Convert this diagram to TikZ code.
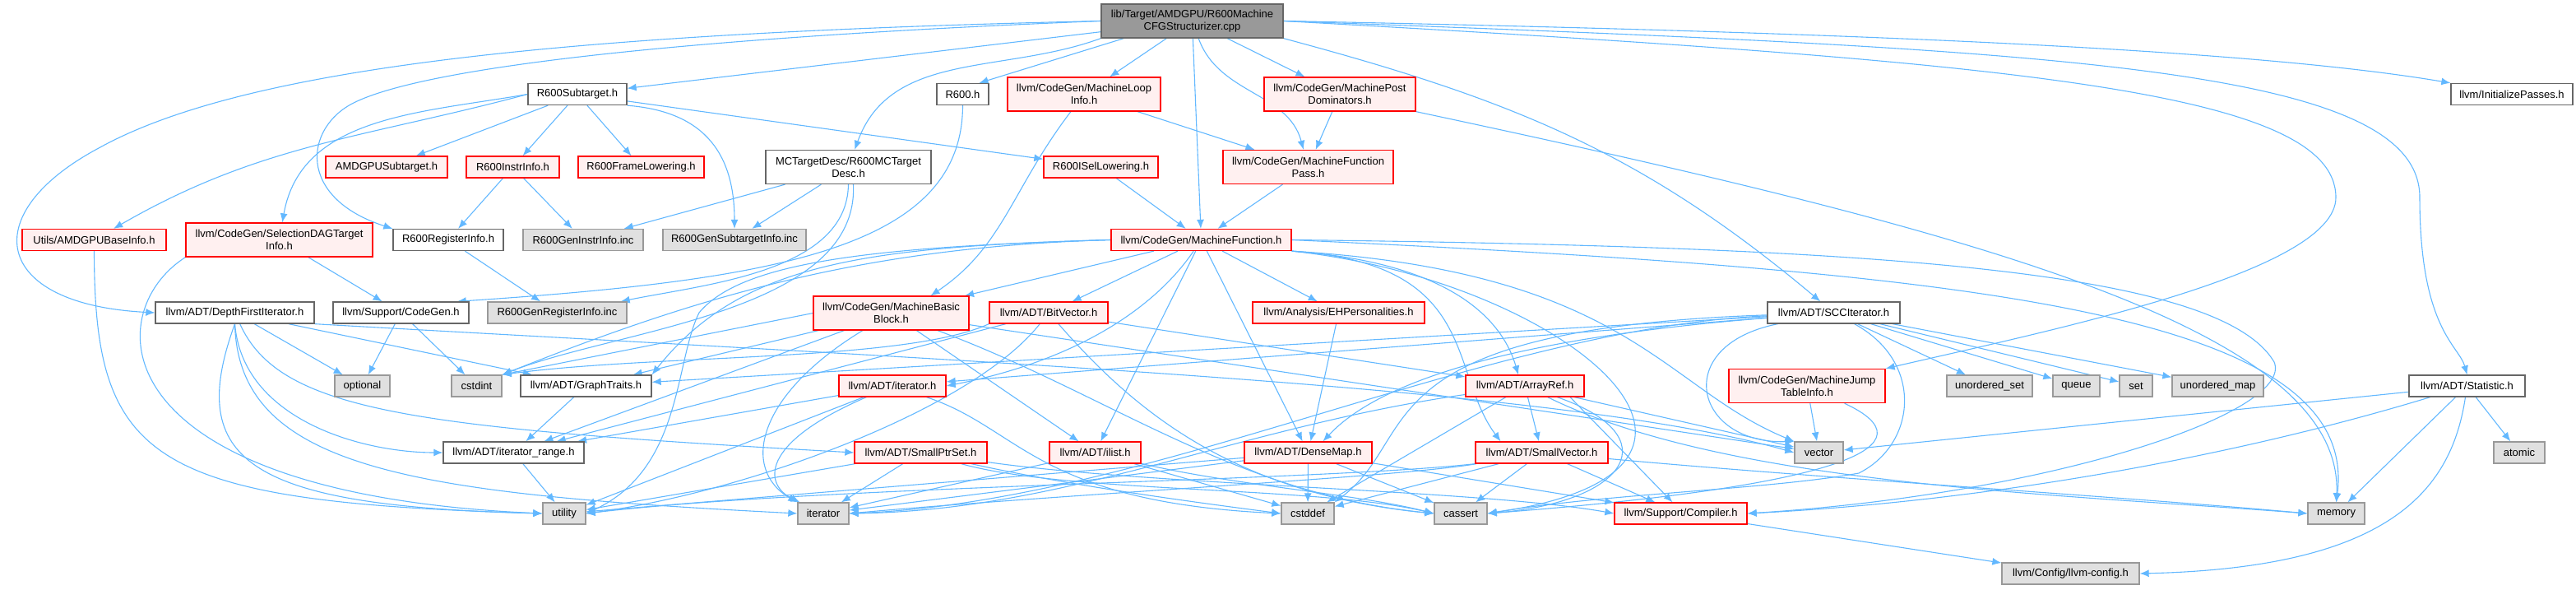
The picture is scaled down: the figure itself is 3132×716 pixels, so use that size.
\documentclass[tikz,border=0pt]{standalone}
\usepackage{fontspec}
\setmainfont{Liberation Sans}
\usetikzlibrary{arrows.meta}
\usetikzlibrary{backgrounds}

\definecolor{edgeblue}{HTML}{63B8FF}
\definecolor{truncline}{HTML}{FF0000}
\definecolor{truncfill}{HTML}{FFF0F0}
\definecolor{sysline}{HTML}{999999}
\definecolor{sysfill}{HTML}{E0E0E0}
\definecolor{fileline}{HTML}{666666}
\definecolor{rootfill}{HTML}{999999}

\begin{document}
\begin{tikzpicture}[x=1pt, y=-1pt,
    filebox/.style={rectangle, draw, line width=1.3pt, inner xsep=2pt, inner ysep=0pt,
        minimum height=26pt, align=center, font=\fontsize{13}{15}\selectfont},
    twoline/.style={minimum height=41pt},
    plainfile/.style={filebox, draw=fileline, fill=white},
    redfile/.style={filebox, draw=truncline, fill=truncfill},
    sysfile/.style={filebox, draw=sysline, fill=sysfill},
    rootfile/.style={filebox, draw=fileline, fill=rootfill},
    incl/.style={draw=edgeblue, line width=1.1pt, -{Latex[length=11pt,width=9pt]}}]

    \useasboundingbox (0,0) rectangle (3132,716);

    % Root file
    \node[rootfile, twoline, minimum width=221pt] (cpp) at (1449.5,25.5) {lib/Target/AMDGPU/R600Machine\\CFGStructurizer.cpp};

    % Row 1
    \node[plainfile, minimum width=120pt] (subtarget) at (702,114.5) {R600Subtarget.h};
    \node[plainfile, minimum width=63pt] (r600h) at (1170.5,114.5) {R600.h};
    \node[redfile, twoline, minimum width=186pt] (loopinfo) at (1318,114.5) {llvm/CodeGen/MachineLoop\\Info.h};
    \node[redfile, twoline, minimum width=184pt] (postdom) at (1629,114.5) {llvm/CodeGen/MachinePost\\Dominators.h};
    \node[plainfile, minimum width=148pt] (initpasses) at (3054,114.5) {llvm/InitializePasses.h};

    % Row 2
    \node[redfile, minimum width=148pt] (amdgpusub) at (470,203) {AMDGPUSubtarget.h};
    \node[redfile, minimum width=113pt] (instrinfo) at (623.5,203) {R600InstrInfo.h};
    \node[redfile, minimum width=153pt] (framelow) at (779.5,203) {R600FrameLowering.h};
    \node[plainfile, twoline, minimum width=201pt] (mcdesc) at (1031.5,203) {MCTargetDesc/R600MCTarget\\Desc.h};
    \node[redfile, minimum width=139pt] (isellow) at (1338.5,203) {R600ISelLowering.h};
    \node[redfile, twoline, minimum width=207pt] (mfpass) at (1590.5,203) {llvm/CodeGen/MachineFunction\\Pass.h};

    % Row 3
    \node[redfile, minimum width=175pt] (basicinfo) at (114.5,291.5) {Utils/AMDGPUBaseInfo.h};
    \node[redfile, twoline, minimum width=227pt] (seldag) at (339.5,291.5) {llvm/CodeGen/SelectionDAGTarget\\Info.h};
    \node[plainfile, minimum width=134pt] (reginfo) at (545,291.5) {R600RegisterInfo.h};
    \node[sysfile, minimum width=146pt] (geninstr) at (709,291.5) {R600GenInstrInfo.inc};
    \node[sysfile, minimum width=174pt] (gensub) at (893,291.5) {R600GenSubtargetInfo.inc};
    \node[redfile, minimum width=219pt] (mf) at (1460.5,291.5) {llvm/CodeGen/MachineFunction.h};

    % Row 4
    \node[plainfile, minimum width=193pt] (dfi) at (285.5,380) {llvm/ADT/DepthFirstIterator.h};
    \node[plainfile, minimum width=165pt] (codegen) at (487.5,380) {llvm/Support/CodeGen.h};
    \node[sysfile, minimum width=169pt] (genreg) at (677.5,380) {R600GenRegisterInfo.inc};
    \node[redfile, twoline, minimum width=189pt] (mbb) at (1083.5,380.5) {llvm/CodeGen/MachineBasic\\Block.h};
    \node[redfile, minimum width=144pt] (bitvector) at (1275,380) {llvm/ADT/BitVector.h};
    \node[redfile, minimum width=209pt] (ehpers) at (1627.5,380) {llvm/Analysis/EHPersonalities.h};
    \node[plainfile, minimum width=161pt] (scc) at (2229.5,380) {llvm/ADT/SCCIterator.h};

    % Row 5
    \node[sysfile, minimum width=67pt] (optional) at (440.5,469) {optional};
    \node[sysfile, minimum width=61pt] (cstdint) at (579.5,469) {cstdint};
    \node[plainfile, minimum width=159pt] (graphtraits) at (712.5,469) {llvm/ADT/GraphTraits.h};
    \node[redfile, minimum width=130pt] (iteratorh) at (1085,469) {llvm/ADT/iterator.h};
    \node[redfile, minimum width=144pt] (arrayref) at (1854,469) {llvm/ADT/ArrayRef.h};
    \node[redfile, twoline, minimum width=190pt] (jumptable) at (2197,469) {llvm/CodeGen/MachineJump\\TableInfo.h};
    \node[sysfile, minimum width=104pt] (uset) at (2419,469) {unordered\_set};
    \node[sysfile, minimum width=57pt] (queue) at (2524.5,469) {queue};
    \node[sysfile, minimum width=40pt] (stdset) at (2597,469) {set};
    \node[sysfile, minimum width=111pt] (umap) at (2696.5,469) {unordered\_map};
    \node[plainfile, minimum width=141pt] (statistic) at (2999.5,469) {llvm/ADT/Statistic.h};

    % Row 6
    \node[plainfile, minimum width=171pt] (itrange) at (624.5,550) {llvm/ADT/iterator\_range.h};
    \node[redfile, minimum width=161pt] (smallptrset) at (1119.5,550) {llvm/ADT/SmallPtrSet.h};
    \node[redfile, minimum width=111pt] (ilist) at (1331.5,550) {llvm/ADT/ilist.h};
    \node[redfile, minimum width=155pt] (densemap) at (1590.5,550) {llvm/ADT/DenseMap.h};
    \node[redfile, minimum width=161pt] (smallvector) at (1874.5,550) {llvm/ADT/SmallVector.h};
    \node[sysfile, minimum width=59pt] (vector) at (2211.5,550) {vector};
    \node[sysfile, minimum width=62pt] (atomic) at (3063,550) {atomic};

    % Row 7
    \node[sysfile, minimum width=52pt] (utility) at (686,624) {utility};
    \node[sysfile, minimum width=62pt] (iterator) at (1001,624) {iterator};
    \node[sysfile, minimum width=64pt] (cstddef) at (1590,624) {cstddef};
    \node[sysfile, minimum width=64pt] (cassert) at (1776,624) {cassert};
    \node[redfile, minimum width=161pt] (compiler) at (2043.5,624) {llvm/Support/Compiler.h};
    \node[sysfile, minimum width=69pt] (memory) at (2840.5,624) {memory};

    % Row 8
    \node[sysfile, minimum width=167pt] (llvmconfig) at (2517.5,697) {llvm/Config/llvm-config.h};

    \begin{scope}[on background layer]
    % includes of the root file
    \draw[incl] (cpp) -- (subtarget);
    \draw[incl] ([xshift=28pt]cpp.south west) -- ([xshift=20pt]r600h.north);
    \draw[incl] (cpp) -- (loopinfo);
    \draw[incl] (cpp) -- (postdom);
    \draw[incl] (cpp) to[out=-70,in=105] (mfpass);
    \draw[incl] (cpp) -- (mf);
    \draw[incl] (cpp.south west) to[out=200,in=70] (mcdesc);
    \draw[incl] (cpp.west) .. controls (850,45) and (520,80) .. (430,125) .. controls (370,155) and (360,240) .. (reginfo.north west);
    \draw[incl] (cpp.west) .. controls (700,40) and (300,80) .. (120,180) .. controls (-30,260) and (-10,370) .. (dfi.west);
    \draw[incl] (cpp.south east) to[out=-15,in=140] (scc);
    \draw[incl] (cpp.east) .. controls (2300,40) and (2750,62) .. (initpasses.north west);
    \draw[incl] (cpp.east) .. controls (2500,60) and (2942,80) .. (2942,240) .. controls (2942,400) and (2990,420) .. (statistic.north);
    \draw[incl] (cpp.east) .. controls (2450,75) and (2840,110) .. (2840,240) .. controls (2840,330) and (2500,400) .. (jumptable.north east);

    % R600Subtarget.h
    \draw[incl] (subtarget) -- (amdgpusub);
    \draw[incl] (subtarget) -- (instrinfo);
    \draw[incl] (subtarget) -- (framelow);
    \draw[incl] (subtarget) -- (isellow);
    \draw[incl] (subtarget.west) to[out=195,in=30] (basicinfo);
    \draw[incl] (subtarget.west) to[out=190,in=80] (seldag);
    \draw[incl] (subtarget.south east) .. controls (850,135) and (893,180) .. (gensub.north);

    % R600.h, loop info, post dominators
    \draw[incl] (r600h.south) .. controls (1170,300) and (950,340) .. ([xshift=-15pt]codegen.north east);
    \draw[incl] (loopinfo) -- (mfpass);
    \draw[incl] (loopinfo) .. controls (1230,230) and (1220,300) .. ([xshift=48pt]mbb.north);
    \draw[incl] (postdom) -- (mfpass);
    \draw[incl] (postdom.south east) .. controls (2400,280) and (2850,400) .. (memory.north);

    % MC target description
    \draw[incl] (mcdesc) -- (geninstr);
    \draw[incl] (mcdesc) -- (gensub);
    \draw[incl] (mcdesc.south) .. controls (1030,330) and (860,345) .. ([xshift=-8pt]genreg.north east);
    \draw[incl] ([xshift=6pt]mcdesc.south) .. controls (1045,380) and (750,400) .. (cstdint.north east);

    % target headers
    \draw[incl] (instrinfo) -- (reginfo);
    \draw[incl] (instrinfo) -- (geninstr);
    \draw[incl] (isellow) -- (mf);
    \draw[incl] (mfpass) -- (mf);
    \draw[incl] (reginfo) -- (genreg);
    \draw[incl] (seldag) -- (codegen);
    \draw[incl] (seldag.south west) .. controls (120,380) and (120,600) .. (utility.west);
    \draw[incl] (basicinfo.south) .. controls (115,560) and (180,610) .. (utility.west);

    % DepthFirstIterator.h
    \draw[incl] (dfi) -- (graphtraits);
    \draw[incl] (dfi) -- (optional);
    \draw[incl] (dfi.south east) .. controls (1200,440) and (1900,470) .. (vector.west);
    \draw[incl] (dfi.south) .. controls (295,510) and (440,550) .. (itrange.west);
    \draw[incl] (dfi.south) .. controls (225,560) and (300,615) .. (utility.west);
    \draw[incl] (dfi.south) .. controls (290,570) and (500,600) .. (iterator.west);
    \draw[incl] (dfi) .. controls (340,500) and (500,520) .. (smallptrset.west);
    \draw[incl] (codegen) -- (optional);
    \draw[incl] (codegen) -- (cstdint);
    \draw[incl] (graphtraits) -- (itrange);
    \draw[incl] (itrange) -- (utility);

    % MachineFunction.h
    \draw[incl] (mf) -- (mbb);
    \draw[incl] (mf) -- (bitvector);
    \draw[incl] (mf) -- (ehpers);
    \draw[incl] (mf) -- (ilist);
    \draw[incl] (mf) -- (densemap);
    \draw[incl] (mf) .. controls (1400,380) and (1300,440) .. (iteratorh.east);
    \draw[incl] (mf.south east) .. controls (1800,320) and (1760,450) .. ([xshift=-50pt]smallvector.north);
    \draw[incl] (mf.south east) .. controls (1780,320) and (1830,400) .. ([xshift=-8pt]arrayref.north);
    \draw[incl] (mf.south east) .. controls (1900,340) and (2180,570) .. (cassert.east);
    \draw[incl] (mf.south east) .. controls (1980,330) and (2020,470) .. (vector.north west);
    \draw[incl] (mf.west) .. controls (1050,300) and (900,320) .. (graphtraits.north east);
    \draw[incl] (mf.west) .. controls (1050,300) and (850,360) .. (cstdint.north east);
    \draw[incl] (mf.west) .. controls (1050,300) and (900,320) .. (850,380) .. controls (820,440) and (830,570) .. (utility.east);
    \draw[incl] (mf.east) .. controls (2300,300) and (2700,330) .. (2765,440) .. controls (2790,500) and (2500,600) .. (compiler.east);
    \draw[incl] (mf.east) .. controls (2400,330) and (2870,380) .. (memory.north);

    % MachineBasicBlock.h
    \draw[incl] (mbb) -- (graphtraits);
    \draw[incl] (mbb.west) -- (cstdint.north east);
    \draw[incl] (mbb) .. controls (920,480) and (900,570) .. (iterator.north west);
    \draw[incl] (mbb) -- (ilist);
    \draw[incl] (mbb) -- (itrange);
    \draw[incl] (mbb) -- (vector);
    \draw[incl] (mbb) .. controls (1350,480) and (1500,600) .. (cassert.west);

    % BitVector.h
    \draw[incl] (bitvector) -- (arrayref);
    \draw[incl] (bitvector) -- (itrange);
    \draw[incl] (bitvector.south west) .. controls (1100,440) and (800,430) .. (cstdint.north east);
    \draw[incl] (bitvector) .. controls (1180,500) and (900,600) .. (utility.east);
    \draw[incl] (bitvector) .. controls (1380,500) and (1500,600) .. (cassert.west);

    % EHPersonalities.h, SCCIterator.h
    \draw[incl] (ehpers) -- (densemap);
    \draw[incl] (scc) -- (uset);
    \draw[incl] (scc) -- (queue);
    \draw[incl] (scc) -- (stdset);
    \draw[incl] (scc) -- (umap);
    \draw[incl] (scc) -- (graphtraits);
    \draw[incl] (scc) -- (iteratorh);
    \draw[incl] (scc) .. controls (1850,410) and (1680,460) .. ([xshift=18pt]densemap.north);
    \draw[incl] (scc) .. controls (1650,400) and (1730,530) .. (cstddef.north east);
    \draw[incl] (scc) .. controls (1800,400) and (1400,610) .. (iterator.east);
    \draw[incl] (scc) .. controls (2030,420) and (2060,540) .. (vector.north west);
    \draw[incl] (scc) .. controls (2340,440) and (2330,540) .. (2260,575) .. controls (2150,595) and (1950,600) .. (cassert.east);

    % jump tables, statistics, compiler
    \draw[incl] (jumptable) -- (vector);
    \draw[incl] (jumptable) .. controls (2350,540) and (2250,590) .. (cassert.east);
    \draw[incl] (statistic) -- (atomic);
    \draw[incl] (statistic) -- (memory);
    \draw[incl] (statistic) -- (vector);
    \draw[incl] (statistic) .. controls (2700,560) and (2400,610) .. (compiler.east);
    \draw[incl] (statistic) .. controls (2980,600) and (2900,690) .. (llvmconfig.east);
    \draw[incl] (compiler) -- (llvmconfig);

    % small ADT headers
    \draw[incl] (iteratorh) -- (itrange);
    \draw[incl] (iteratorh) -- (utility);
    \draw[incl] (iteratorh) .. controls (920,540) and (930,590) .. (iterator);
    \draw[incl] (iteratorh) .. controls (1240,520) and (1260,610) .. (cstddef.west);
    \draw[incl] (smallptrset) -- (iterator);
    \draw[incl] (smallptrset) -- (utility);
    \draw[incl] (smallptrset) .. controls (1300,590) and (1450,610) .. (cstddef.west);
    \draw[incl] (smallptrset) .. controls (1300,600) and (1600,590) .. (cassert.west);
    \draw[incl] (smallptrset) .. controls (1400,590) and (1800,595) .. (compiler.west);
    \draw[incl] (ilist) -- (iterator);
    \draw[incl] (ilist) -- (cstddef);
    \draw[incl] (ilist) .. controls (1500,590) and (1650,600) .. (cassert.west);
    \draw[incl] (densemap) -- (cstddef);
    \draw[incl] (densemap) -- (cassert);
    \draw[incl] (densemap) -- (compiler);
    \draw[incl] (densemap) -- (iterator);
    \draw[incl] (densemap) -- (utility);
    \draw[incl] (arrayref) -- (smallvector);
    \draw[incl] (arrayref) -- (cstddef);
    \draw[incl] (arrayref) -- (vector);
    \draw[incl] ([xshift=55pt]arrayref.south) -- ([xshift=-10pt]compiler.north);
    \draw[incl] (arrayref) .. controls (2030,530) and (1980,610) .. (cassert.east);
    \draw[incl] (arrayref) .. controls (2100,590) and (2500,600) .. (memory.west);
    \draw[incl] (arrayref) .. controls (1500,520) and (1300,620) .. (iterator.east);
    \draw[incl] (smallvector) -- (cstddef);
    \draw[incl] (smallvector) -- (cassert);
    \draw[incl] (smallvector) -- (compiler);
    \draw[incl] (smallvector) .. controls (2200,580) and (2600,605) .. (memory.west);
    \draw[incl] (smallvector) .. controls (1700,580) and (1300,600) .. (iterator.east);
    \draw[incl] (smallvector.south west) .. controls (1600,585) and (1000,590) .. (utility.east);
    \end{scope}

\end{tikzpicture}
\end{document}
